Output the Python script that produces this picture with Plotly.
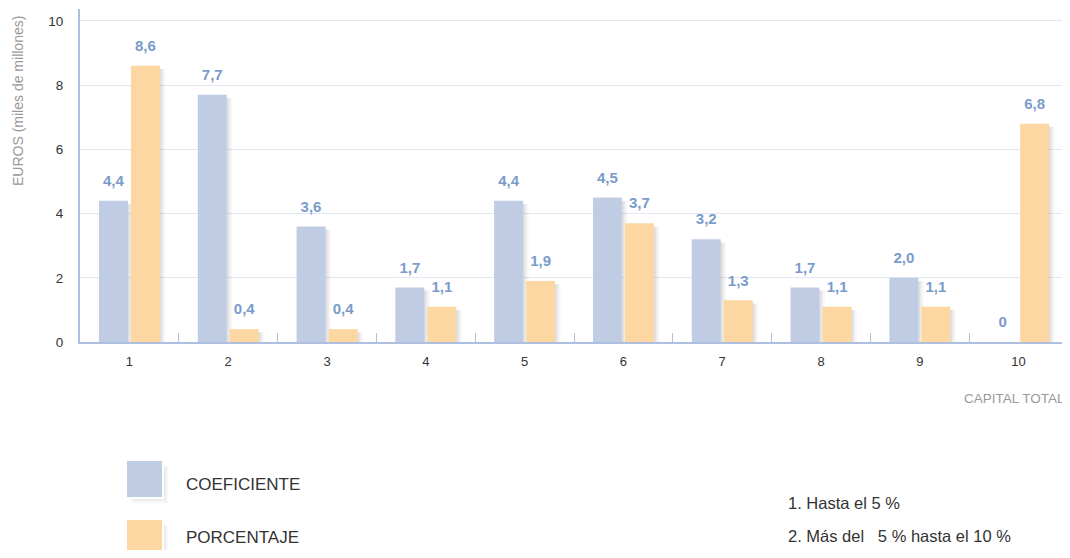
import plotly.graph_objects as go

categories = ["1", "2", "3", "4", "5", "6", "7", "8", "9", "10"]
coeficiente = [4.4, 7.7, 3.6, 1.7, 4.4, 4.5, 3.2, 1.7, 2.0, 0]
porcentaje = [8.6, 0.4, 0.4, 1.1, 1.9, 3.7, 1.3, 1.1, 1.1, 6.8]
y_ticks = [0, 2, 4, 6, 8, 10]
legend_names = ["COEFICIENTE", "PORCENTAJE"]
notes = ["1. Hasta el 5 %", "2. Más del\u00a0\u00a0\u00a05 % hasta el 10 %"]

COEF_COLOR = "#c0cce3"
PORC_COLOR = "#fcd7a1"
LABEL_COLOR = "#7b9bcb"
AXIS_COLOR = "#aebfdf"
GRID_COLOR = "#e2e7f3"

W = 0.293
OFF_C = -0.308
OFF_P = 0.016

# page has an 8px body margin on every side; work in page pixels and convert
PAGE_OFF = 8
FIG_W, FIG_H = 1070 - 2 * PAGE_OFF + 8, 558 - 2 * PAGE_OFF
PL, PR, PT, PB = 80, 1068, 9, 342  # plot area in page pixels


def fmt(v):
    return "0" if v == 0 else f"{v:.1f}".replace(".", ",")


fig = go.Figure()

# soft drop shadows
for dx, alpha in [(0.055, 0.04), (0.035, 0.055), (0.018, 0.07)]:
    for vals, off in [(coeficiente, OFF_C), (porcentaje, OFF_P)]:
        fig.add_trace(go.Bar(
            x=categories, y=[max(v - 0.1, 0) for v in vals],
            offset=off + dx, width=W,
            marker=dict(color=f"rgba(60,60,60,{alpha})", line=dict(width=0)),
            hoverinfo="skip", showlegend=False))

fig.add_trace(go.Bar(x=categories, y=coeficiente, offset=OFF_C, width=W,
                     marker=dict(color=COEF_COLOR, line=dict(width=0)),
                     name=legend_names[0], showlegend=False))
fig.add_trace(go.Bar(x=categories, y=porcentaje, offset=OFF_P, width=W,
                     marker=dict(color=PORC_COLOR, line=dict(width=0)),
                     name=legend_names[1], showlegend=False))

xi = list(range(len(categories)))
for vals, off in [(coeficiente, OFF_C), (porcentaje, OFF_P)]:
    fig.add_trace(go.Scatter(
        x=[i + off + W / 2 for i in xi], y=vals, xaxis="x2", mode="markers+text",
        text=[fmt(v) for v in vals], textposition="top center",
        marker=dict(size=16, opacity=0),
        textfont=dict(family="Liberation Sans", size=15, color=LABEL_COLOR, weight="bold"),
        hoverinfo="skip", showlegend=False, cliponaxis=False))

fig.update_layout(
    width=FIG_W, height=FIG_H,
    margin=dict(l=PL - PAGE_OFF, r=FIG_W - (PR - PAGE_OFF), t=PT - PAGE_OFF,
                b=FIG_H - (PB - PAGE_OFF)),
    paper_bgcolor="white", plot_bgcolor="white",
    barmode="overlay",
    font=dict(family="Liberation Sans", size=13, color="#333333"),
    xaxis=dict(type="category", categoryorder="array", categoryarray=categories,
               range=[-0.5, len(categories) - 0.5],
               showline=True, linecolor=AXIS_COLOR, linewidth=2,
               ticks="inside", tickson="boundaries", ticklen=9, tickcolor=AXIS_COLOR, tickwidth=1,
               showgrid=False, ticklabelstandoff=6,
               tickfont=dict(family="Liberation Sans", size=13, color="#333333")),
    xaxis2=dict(overlaying="x", range=[-0.5, len(categories) - 0.5], visible=False),
    yaxis=dict(range=[0, 10.37], tickvals=y_ticks, showgrid=True, gridcolor=GRID_COLOR,
               gridwidth=1, showline=True, linecolor=AXIS_COLOR, linewidth=2,
               zeroline=False, ticks="", ticklabelstandoff=12,
               tickfont=dict(family="Liberation Sans", size=13.5, color="#333333")),
)


def px(xp):
    return (xp - PL) / (PR - PL)


def py(yp):
    return (PB - yp) / (PB - PT)


ann = [
    dict(text="EUROS (miles de millones)", x=px(18), y=py(14), xref="paper", yref="paper",
         xanchor="center", yanchor="top", textangle=-90, showarrow=False,
         font=dict(family="Liberation Sans", size=14, color="#999999")),
    dict(text="CAPITAL TOTAL", x=px(1067), y=py(398), xref="paper", yref="paper",
         xanchor="right", yanchor="middle", showarrow=False,
         font=dict(family="Liberation Sans", size=13.5, color="#999999")),
]
shapes = []
for name, color, top, ty in [(legend_names[0], COEF_COLOR, 461, 484),
                              (legend_names[1], PORC_COLOR, 520, 537)]:
    for d, a in [(6, 0.04), (4, 0.06), (2, 0.08)]:
        shapes.append(dict(type="rect", xref="paper", yref="paper",
                           x0=px(127 + d), x1=px(162 + d), y0=py(top + 36 + d), y1=py(top + d),
                           fillcolor=f"rgba(60,60,60,{a})", line=dict(width=0)))
    shapes.append(dict(type="rect", xref="paper", yref="paper",
                       x0=px(125), x1=px(164), y0=py(top + 38), y1=py(top - 2),
                       fillcolor="white", line=dict(width=0)))
    shapes.append(dict(type="rect", xref="paper", yref="paper",
                       x0=px(127), x1=px(162), y0=py(top + 36), y1=py(top),
                       fillcolor=color, line=dict(width=0)))
    ann.append(dict(text=name, x=px(184), y=py(ty), xref="paper", yref="paper",
                    xanchor="left", yanchor="middle", showarrow=False,
                    font=dict(family="Liberation Sans Narrow, Liberation Sans", size=17, color="#333333")))
for t, ty in zip(notes, [503, 536]):
    ann.append(dict(text=t, x=px(786), y=py(ty), xref="paper", yref="paper",
                    xanchor="left", yanchor="middle", showarrow=False,
                    font=dict(family="Liberation Sans Narrow, Liberation Sans", size=16.5, color="#333333")))

fig.update_layout(annotations=ann, shapes=shapes)
fig.write_html("out.html")
